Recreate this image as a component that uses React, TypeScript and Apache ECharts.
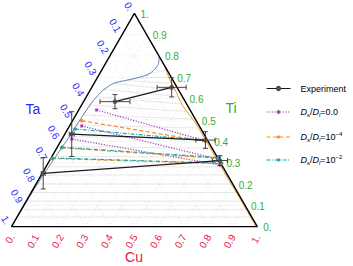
import { useEffect, useRef } from 'react';
import * as echarts from 'echarts';

const H = Math.sqrt(3) / 2;
const FONT = 'Liberation Sans, Arial, sans-serif';

// Compositions are written as [Cu, Ti]; Ta = 1 - Cu - Ti
const tickValues = [0, 0.1, 0.2, 0.3, 0.4, 0.5, 0.6, 0.7, 0.8, 0.9, 1];
const tickLabels = ['0.', '0.1', '0.2', '0.3', '0.4', '0.5', '0.6', '0.7', '0.8', '0.9', '1.'];
const gridLevels = [0.1, 0.2, 0.3, 0.4, 0.5, 0.6, 0.7, 0.8, 0.9];
const cornerPoints = [[0, 0], [1, 0], [0, 1], [0, 0]];

// Ta-rich phase boundary (blue)
const taRichBoundary = [
  [0.203, 0.797], [0.216, 0.762], [0.214, 0.738], [0.200, 0.715], [0.162, 0.697],
  [0.120, 0.685], [0.080, 0.672], [0.055, 0.643], [0.042, 0.609], [0.034, 0.570],
  [0.030, 0.523], [0.027, 0.477], [0.025, 0.422], [0.018, 0.359], [0.013, 0.300],
  [0.008, 0.242], [0.005, 0.195], [0.003, 0.120], [0.001, 0.050], [0, 0],
];
// Ti-rich phase boundary (orange)
const tiRichBoundary = [
  [0.247, 0.753], [0.301, 0.687], [0.360, 0.625], [0.418, 0.562], [0.490, 0.500],
  [0.556, 0.437], [0.625, 0.368], [0.692, 0.300], [0.850, 0.145], [0.995, 0.0],
];
// calculated equilibrium tie lines (grey fan)
const fanLeft = [
  [0.200, 0.715], [0.162, 0.697], [0.120, 0.685], [0.080, 0.672], [0.055, 0.643],
  [0.042, 0.609], [0.034, 0.570], [0.030, 0.523], [0.027, 0.477], [0.027, 0.422],
  [0.020, 0.375], [0.017, 0.330], [0.016, 0.281], [0.008, 0.242], [0.005, 0.200],
  [0.004, 0.160], [0.003, 0.120], [0.002, 0.080], [0.001, 0.045],
];
const fanRight = [
  [0.262, 0.734], [0.290, 0.700], [0.318, 0.672], [0.345, 0.640], [0.375, 0.610],
  [0.405, 0.575], [0.440, 0.540], [0.485, 0.505], [0.530, 0.462], [0.575, 0.415],
  [0.625, 0.368], [0.668, 0.326], [0.715, 0.280], [0.752, 0.243], [0.795, 0.200],
  [0.835, 0.160], [0.875, 0.120], [0.915, 0.080], [0.950, 0.045],
];

// Experiment
const expLeft = [[0.128, 0.586], [0.028, 0.434], [0.004, 0.250]];
const expRight = [[0.325, 0.653], [0.586, 0.406], [0.693, 0.310]];
const expLeftErrX = [0.061, 0.010, 0.008];
const expLeftErrTi = [0.033, 0.105, 0.073];
const expRightErrX = [0.059, 0.039, 0.031];
const expRightErrTi = [0.045, 0.039, 0.023];

// Model: Ds/Dl = 0.0
const ds0Left = [[0.073, 0.547], [0.050, 0.472], [0.040, 0.411]];
const ds0Right = [[0.578, 0.405], [0.680, 0.317], [0.705, 0.289]];
// Model: Ds/Dl = 1e-4
const ds4Left = [[0.037, 0.497], [0.019, 0.370], [0.004, 0.320]];
const ds4Right = [[0.590, 0.399], [0.684, 0.320], [0.707, 0.295]];
// Model: Ds/Dl = 1e-2
const ds2Left = [[0.029, 0.458], [0.019, 0.372], [0.005, 0.322]];
const ds2Right = [[0.585, 0.404], [0.683, 0.324], [0.706, 0.298]];

const legendNames = ['Experiment', 'Ds/Dl=0.0', 'Ds/Dl=10^-4', 'Ds/Dl=10^-2'];
const legendRich: Record<string, string> = {
  'Experiment': '{n|Experiment}',
  'Ds/Dl=0.0': '{i|D}{s|s}{n|/}{i|D}{s|l}{n|=0.0}',
  'Ds/Dl=10^-4': '{i|D}{s|s}{n|/}{i|D}{s|l}{n|=10}{p|−4}',
  'Ds/Dl=10^-2': '{i|D}{s|s}{n|/}{i|D}{s|l}{n|=10}{p|−2}',
};
const legendTops = [84, 107.5, 131, 154];

const toXY = (p: number[]) => [p[0] + p[1] / 2, p[1] * H];

function segmentSeries(a: number[][], b: number[][], stroke: string, width: number, dash?: number[], z = 1) {
  return {
    type: 'custom',
    silent: true,
    z,
    coordinateSystem: 'cartesian2d',
    data: a.map((p, i) => [...toXY(p), ...toXY(b[i])]),
    encode: { x: [0, 2], y: [1, 3] },
    renderItem: (_p: any, api: any) => {
      const s = api.coord([api.value(0), api.value(1)]);
      const e = api.coord([api.value(2), api.value(3)]);
      return {
        type: 'line',
        shape: { x1: s[0], y1: s[1], x2: e[0], y2: e[1] },
        style: { stroke, lineWidth: width, lineDash: dash, fill: null },
      };
    },
  };
}

function labelSeries(points: number[][], texts: string[], color: string, offset: number[], rotate: number, align: string) {
  return {
    type: 'scatter',
    silent: true,
    symbolSize: 0,
    itemStyle: { color: '#ffffff', opacity: 1 },
    data: points.map((p) => toXY(p)),
    label: {
      show: true,
      formatter: (d: any) => texts[d.dataIndex],
      position: offset,
      rotate,
      align,
      verticalAlign: 'middle',
      color,
      opacity: 1,
      textBorderWidth: 0,
      textBorderColor: 'transparent',
      fontSize: 10,
      fontFamily: FONT,
    },
    z: 5,
  };
}

function tieSeries(name: string, left: number[][], right: number[][], color: string, dash: any, symbol: string, size: number, width: number, z: number) {
  return left.map((p, i) => ({
    type: 'line',
    name,
    silent: true,
    z,
    data: [toXY(p), toXY(right[i])],
    symbol,
    symbolSize: size,
    showSymbol: true,
    lineStyle: { color, width, type: dash },
    itemStyle: { color },
  }));
}

export default function App() {
  const ref = useRef<HTMLDivElement>(null);
  useEffect(() => {
    if (!ref.current) return;
    const chart = echarts.init(ref.current, undefined, { renderer: 'svg' });

    // ternary grid lines
    const gA: number[][] = [], gB: number[][] = [];
    gridLevels.forEach((v) => {
      gA.push([0, v]); gB.push([1 - v, v]);         // constant Ti
      gA.push([v, 0]); gB.push([v, 1 - v]);         // constant Cu
      gA.push([1 - v, 0]); gB.push([0, 1 - v]);     // constant Ta
    });

    const errData = [
      ...expLeft.map((p, i) => [...toXY(p), expLeftErrX[i], expLeftErrTi[i] * H]),
      ...expRight.map((p, i) => [...toXY(p), expRightErrX[i], expRightErrTi[i] * H]),
    ];

    const rich = {
      n: { fontSize: 9, lineHeight: 12, fontFamily: FONT, color: '#000' },
      i: { fontSize: 9, lineHeight: 12, fontStyle: 'italic', fontFamily: FONT, color: '#000' },
      s: { fontSize: 6, lineHeight: 6, fontStyle: 'italic', verticalAlign: 'bottom', fontFamily: FONT, color: '#000' },
      p: { fontSize: 6, lineHeight: 6, verticalAlign: 'top', fontFamily: FONT, color: '#000' },
    };

    chart.setOption({
      animation: false,
      grid: { left: 11.5, top: 13.3, width: 245.8, height: 213.4 },
      xAxis: { type: 'value', min: 0, max: 1, show: false },
      yAxis: { type: 'value', min: 0, max: H, show: false },
      legend: legendNames.map((n, i) => ({
        data: [n],
        left: 266,
        top: legendTops[i],
        padding: 0,
        itemWidth: 24,
        itemHeight: 4,
        itemGap: 0,
        selectedMode: false,
        lineStyle: { width: 1 },
        formatter: (name: string) => legendRich[name],
        textStyle: { fontSize: 9, fontFamily: FONT, color: '#000', rich, padding: [0, 0, 0, 5] },
      })),
      graphic: [
        { type: 'text', x: 33, y: 109, style: { text: 'Ta', fontSize: 14, fontFamily: FONT, fill: '#2b2bff', align: 'center', verticalAlign: 'middle' } },
        { type: 'text', x: 231, y: 108, style: { text: 'Ti', fontSize: 14, fontFamily: FONT, fill: '#33b033', align: 'center', verticalAlign: 'middle' } },
        { type: 'text', x: 134, y: 257, style: { text: 'Cu', fontSize: 14, fontFamily: FONT, fill: '#e4193f', align: 'center', verticalAlign: 'middle' } },
      ],
      series: [
        segmentSeries(gA, gB, '#cfcfcf', 0.6, [1, 2], 1),
        segmentSeries(fanLeft, fanRight, '#dcdcdc', 0.7, undefined, 1),
        {
          type: 'line', silent: true, z: 2, data: taRichBoundary.map(toXY), symbol: 'none', smooth: 0.3,
          lineStyle: { color: '#5e81b5', width: 1 },
        },
        {
          type: 'line', silent: true, z: 2, data: tiRichBoundary.map(toXY), symbol: 'none', smooth: 0.3,
          lineStyle: { color: '#e19c24', width: 1 },
        },
        {
          type: 'line', silent: true, z: 3, data: cornerPoints.map(toXY), symbol: 'none',
          lineStyle: { color: '#000', width: 1.4 },
        },
        ...tieSeries('Ds/Dl=0.0', ds0Left, ds0Right, '#a43cb8', [1.2, 1.5], 'rect', 3, 1.2, 4),
        ...tieSeries('Ds/Dl=10^-4', ds4Left, ds4Right, '#ff8c1a', [4, 2.5], 'circle', 3.5, 1.2, 4),
        ...tieSeries('Ds/Dl=10^-2', ds2Left, ds2Right, '#1aa6a6', [4, 1.5, 1, 1.5], 'circle', 3.5, 1.2, 4),
        ...expLeft.map((p, i) => ({
          type: 'line', name: 'Experiment', silent: true, z: 6,
          data: [toXY(p), toXY(expRight[i])],
          symbol: 'circle', symbolSize: 4, showSymbol: true,
          lineStyle: { color: '#1a1a1a', width: 1.2 },
          itemStyle: { color: '#888', borderColor: '#444', borderWidth: 0.8 },
        })),
        {
          type: 'custom', silent: true, z: 7, coordinateSystem: 'cartesian2d',
          data: errData, encode: { x: 0, y: 1 },
          renderItem: (_p: any, api: any) => {
            const x = api.value(0), y = api.value(1), ex = api.value(2), ey = api.value(3);
            const l = api.coord([x - ex, y]), r = api.coord([x + ex, y]);
            const t = api.coord([x, y + ey]), b = api.coord([x, y - ey]);
            const c = 2.5;
            const style = { stroke: '#333', lineWidth: 0.9, fill: null };
            const ln = (x1: number, y1: number, x2: number, y2: number) => ({ type: 'line', shape: { x1, y1, x2, y2 }, style });
            return {
              type: 'group',
              children: [
                ln(l[0], l[1], r[0], r[1]),
                ln(l[0], l[1] - c, l[0], l[1] + c),
                ln(r[0], r[1] - c, r[0], r[1] + c),
                ln(t[0], t[1], b[0], b[1]),
                ln(t[0] - c, t[1], t[0] + c, t[1]),
                ln(b[0] - c, b[1], b[0] + c, b[1]),
              ],
            };
          },
        },
        labelSeries(tickValues.map((v) => [v, 0]), tickLabels, '#e4193f', [0.5, 8.5], 60, 'right'),
        labelSeries(tickValues.map((v) => [0, 1 - v]), tickLabels, '#2b2bff', [-3.5, -3], -60, 'right'),
        labelSeries(tickValues.map((v) => [1 - v, v]), tickLabels, '#33b033', [6, 1], 0, 'left'),
      ],
    });
    return () => chart.dispose();
  }, []);
  return <div ref={ref} style={{ position: 'fixed', left: 0, top: 0, width: 353, height: 266, background: '#fff' }} />;
}
